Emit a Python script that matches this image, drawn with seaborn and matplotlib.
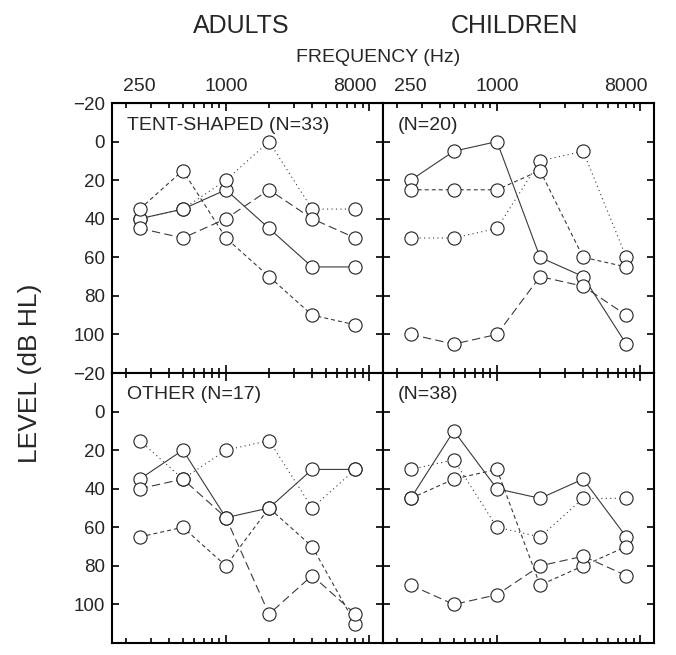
import matplotlib
matplotlib.use('Agg')
import matplotlib.pyplot as plt
import pandas as pd
import seaborn as sns
from matplotlib.ticker import LogLocator, NullFormatter, NullLocator

# Audiogram data (dB HL)
freqs = [250, 500, 1000, 2000, 4000, 8000]
series_order = ['solid', 'dotted', 'short', 'long']

adults_tent_solid = [40, 35, 25, 45, 65, 65]
adults_tent_dotted = [40, 35, 20, 0, 35, 35]
adults_tent_short = [35, 15, 50, 70, 90, 95]
adults_tent_long = [45, 50, 40, 25, 40, 50]

children_tent_solid = [20, 5, 0, 60, 70, 105]
children_tent_dotted = [50, 50, 45, 10, 5, 60]
children_tent_short = [25, 25, 25, 15, 60, 65]
children_tent_long = [100, 105, 100, 70, 75, 90]

adults_other_solid = [35, 20, 55, 50, 30, 30]
adults_other_dotted = [15, 35, 20, 15, 50, 30]
adults_other_short = [65, 60, 80, 50, 70, 110]
adults_other_long = [40, 35, 55, 105, 85, 105]

children_other_solid = [45, 10, 40, 45, 35, 65]
children_other_dotted = [30, 25, 60, 65, 45, 45]
children_other_short = [45, 35, 30, 90, 80, 70]
children_other_long = [90, 100, 95, 80, 75, 85]

panel_labels = ['TENT-SHAPED (N=33)', '(N=20)', 'OTHER (N=17)', '(N=38)']
freq_labels = [250, 1000, 8000]
y_ticks = [-20, 0, 20, 40, 60, 80, 100]

panel_data = [
    [adults_tent_solid, adults_tent_dotted, adults_tent_short, adults_tent_long],
    [children_tent_solid, children_tent_dotted, children_tent_short, children_tent_long],
    [adults_other_solid, adults_other_dotted, adults_other_short, adults_other_long],
    [children_other_solid, children_other_dotted, children_other_short, children_other_long],
]

dash_map = {'solid': '', 'dotted': (1, 3), 'short': (3.6, 2.7), 'long': (7.5, 3.8)}

sns.set_style('white')
plt.rcParams['font.family'] = ['Liberation Sans', 'DejaVu Sans']

W, H = 676, 655
fig = plt.figure(figsize=(W / 100, H / 100), dpi=100)

# panel boxes in pixels: left, top, right, bottom
boxes = [(112, 103, 383, 373), (383, 103, 654, 373),
         (112, 373, 383, 643), (383, 373, 654, 643)]

for i, (box, data, label) in enumerate(zip(boxes, panel_data, panel_labels)):
    l, t, r, b = box
    ax = fig.add_axes([l / W, 1 - b / H, (r - l) / W, (b - t) / H])
    ax.set_xscale('log')

    rows = []
    for name, vals in zip(series_order, data):
        for f, v in zip(freqs, vals):
            rows.append({'freq': f, 'level': v, 'series': name})
    df = pd.DataFrame(rows)

    sns.lineplot(data=df, x='freq', y='level', style='series', style_order=series_order,
                 dashes=dash_map, color='#3a3a3a', lw=0.8, estimator=None,
                 sort=False, legend=False, ax=ax)
    sns.scatterplot(data=df, x='freq', y='level', marker='o', s=90, color='white',
                    edgecolor='#222222', linewidth=0.8, zorder=3, legend=False, ax=ax)

    ax.set_xlim(160, 12500)
    ax.set_ylim(120, -20)
    ax.set_yticks(y_ticks)
    ax.xaxis.set_major_locator(LogLocator(base=10))
    ax.xaxis.set_minor_locator(LogLocator(base=10, subs=range(2, 10)))
    ax.xaxis.set_major_formatter(NullFormatter())
    ax.xaxis.set_minor_formatter(NullFormatter())
    ax.yaxis.set_minor_locator(NullLocator())
    ax.set_xlabel('')
    ax.set_ylabel('')

    ax.tick_params(which='both', direction='in', top=True, bottom=True, left=True, right=True,
                   width=1.2, color='black')
    ax.tick_params(axis='x', which='major', length=6)
    ax.tick_params(axis='x', which='minor', length=3.5)
    ax.tick_params(axis='y', length=5, labelsize=13.5, pad=5)
    if i % 2 == 1:
        ax.tick_params(axis='y', labelleft=False)
    for sp in ax.spines.values():
        sp.set_linewidth(1.5)
        sp.set_color('black')

    ax.text(0.055, 0.95, label, transform=ax.transAxes, ha='left', va='top', fontsize=14)

    if i < 2:
        sec = ax.secondary_xaxis('top')
        sec.set_xticks(freq_labels, labels=[str(f) for f in freq_labels])
        sec.xaxis.set_minor_locator(NullLocator())
        sec.tick_params(length=0, labelsize=14, pad=6)

fig.text(241 / W, 1 - 26 / H, 'ADULTS', ha='center', va='center', fontsize=18)
fig.text(514 / W, 1 - 26 / H, 'CHILDREN', ha='center', va='center', fontsize=18)
fig.text(378 / W, 1 - 57 / H, 'FREQUENCY (Hz)', ha='center', va='center', fontsize=14)
fig.text(30 / W, 1 - 373 / H, 'LEVEL (dB HL)', ha='center', va='center', rotation=90, fontsize=19)

fig.savefig('out.png', dpi=100)
